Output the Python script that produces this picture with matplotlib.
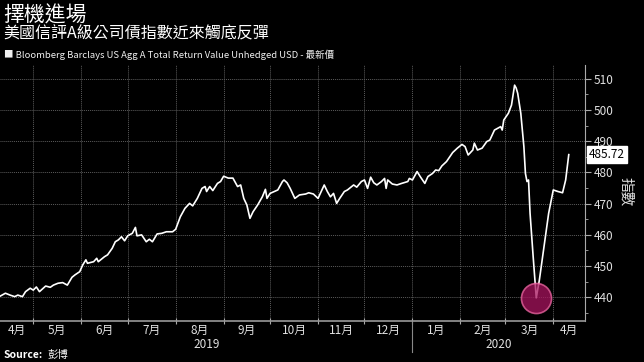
import pandas as pd
import matplotlib
matplotlib.use("Agg")
import matplotlib.pyplot as plt
import matplotlib.dates as mdates
import matplotlib.transforms as mtransforms

plt.rcParams['font.family'] = ['Noto Sans CJK TC', 'DejaVu Sans']

title = "擇機進場"
subtitle = "美國信評A級公司債指數近來觸底反彈"
series_name = "Bloomberg Barclays US Agg A Total Return Value Unhedged USD - 最新價"
source = "彭博"

dates = [
    "2019-04-09", "2019-04-13", "2019-04-16", "2019-04-19", "2019-04-21", "2019-04-24",
    "2019-04-26", "2019-04-29", "2019-05-01", "2019-05-03", "2019-05-05", "2019-05-09",
    "2019-05-12", "2019-05-14", "2019-05-17", "2019-05-20", "2019-05-23", "2019-05-26",
    "2019-05-28", "2019-05-31", "2019-06-02", "2019-06-04", "2019-06-05", "2019-06-09",
    "2019-06-11", "2019-06-12", "2019-06-16", "2019-06-18", "2019-06-21", "2019-06-23",
    "2019-06-25", "2019-06-27", "2019-06-29", "2019-07-01", "2019-07-04", "2019-07-06",
    "2019-07-07", "2019-07-10", "2019-07-13", "2019-07-15", "2019-07-17", "2019-07-20",
    "2019-07-23", "2019-07-26", "2019-07-30", "2019-08-01", "2019-08-04", "2019-08-07",
    "2019-08-10", "2019-08-12", "2019-08-15", "2019-08-18", "2019-08-20", "2019-08-21",
    "2019-08-23", "2019-08-25", "2019-08-28", "2019-08-30", "2019-09-01", "2019-09-04",
    "2019-09-07", "2019-09-10", "2019-09-12", "2019-09-14", "2019-09-16", "2019-09-18",
    "2019-09-20", "2019-09-23", "2019-09-26", "2019-09-28", "2019-09-29", "2019-10-01",
    "2019-10-06", "2019-10-09", "2019-10-10", "2019-10-12", "2019-10-14", "2019-10-17",
    "2019-10-20", "2019-10-24", "2019-10-26", "2019-10-29", "2019-11-01", "2019-11-05",
    "2019-11-07", "2019-11-09", "2019-11-11", "2019-11-13", "2019-11-15", "2019-11-18",
    "2019-11-20", "2019-11-24", "2019-11-26", "2019-11-29", "2019-12-01", "2019-12-03",
    "2019-12-05", "2019-12-07", "2019-12-09", "2019-12-12", "2019-12-14", "2019-12-15",
    "2019-12-16", "2019-12-19", "2019-12-22", "2019-12-25", "2019-12-29", "2019-12-30",
    "2020-01-01", "2020-01-04", "2020-01-06", "2020-01-09", "2020-01-11", "2020-01-14",
    "2020-01-16", "2020-01-18", "2020-01-20", "2020-01-23", "2020-01-27", "2020-01-30",
    "2020-02-02", "2020-02-04", "2020-02-06", "2020-02-09", "2020-02-10", "2020-02-12",
    "2020-02-15", "2020-02-18", "2020-02-20", "2020-02-23", "2020-02-27", "2020-02-28",
    "2020-02-29", "2020-03-03", "2020-03-05", "2020-03-06", "2020-03-07", "2020-03-08",
    "2020-03-09", "2020-03-11", "2020-03-13", "2020-03-14", "2020-03-15", "2020-03-16",
    "2020-03-17", "2020-03-19", "2020-03-21", "2020-03-23", "2020-03-26", "2020-03-29",
    "2020-04-01", "2020-04-04", "2020-04-07", "2020-04-09", "2020-04-11",
]
values = [
    440.2, 441.3, 440.7, 440.2, 440.7, 440.2,
    441.8, 442.9, 442.3, 443.3, 441.8, 443.6,
    443.2, 443.9, 444.5, 444.7, 443.9, 446.4,
    447.2, 448.2, 450.4, 452.0, 450.9, 451.4,
    452.5, 451.4, 453.0, 453.6, 455.7, 457.8,
    458.4, 459.4, 458.1, 459.7, 460.5, 462.4,
    459.7, 460.0, 457.8, 458.6, 457.8, 460.3,
    460.5, 461.0, 461.0, 461.8, 465.8, 468.5,
    470.1, 469.3, 471.7, 474.9, 475.5, 473.9,
    475.5, 474.2, 476.5, 477.1, 478.8, 478.2,
    478.2, 475.5, 476.0, 471.7, 469.6, 465.3,
    467.4, 469.6, 472.2, 474.6, 471.7, 473.3,
    474.4, 477.1, 477.6, 476.7, 474.9, 471.7,
    472.8, 473.1, 473.5, 473.1, 471.7, 476.0,
    473.9, 472.2, 473.3, 470.1, 471.7, 473.9,
    474.4, 476.0, 475.3, 477.1, 477.6, 474.9,
    478.5, 476.7, 476.0, 477.1, 478.1, 474.9,
    477.6, 476.3, 476.0, 476.5, 477.1, 478.1,
    477.6, 480.3, 478.7, 476.5, 478.7, 479.7,
    480.8, 480.6, 482.1, 483.5, 486.4, 487.8,
    489.0, 488.3, 485.6, 487.2, 489.4, 487.2,
    487.8, 489.9, 490.4, 493.6, 494.7, 493.6,
    496.8, 499.0, 501.6, 504.8, 508.0, 507.1,
    505.4, 499.0, 488.3, 479.7, 477.1, 477.6,
    466.9, 453.0, 439.8, 445.5, 456.2, 466.9,
    474.4, 473.9, 473.5, 477.6, 485.72,
]
y_ticks = [440, 450, 460, 470, 480, 490, 500, 510]

x = pd.to_datetime(dates)
bg = "black"

fig = plt.figure(figsize=(6.44, 3.62), dpi=100, facecolor=bg)
ax = fig.add_axes([0.0, 0.1133, 0.9084, 0.7071], facecolor=bg)

ax.plot(x, values, color="white", lw=1.2, zorder=3)

# highlight the low point
i_low = min(range(len(values)), key=lambda i: values[i])
ax.scatter([x[i_low]], [values[i_low]], s=470, facecolor="#a8145e", alpha=0.75,
           edgecolor="#f06aa5", linewidth=1.2, zorder=4)

x0 = pd.Timestamp("2019-04-09 12:00")
x1 = pd.Timestamp("2020-04-21 12:00")
ax.set_xlim(x0, x1)
ax.set_ylim(432.4, 514.45)

ax.xaxis.set_major_locator(mdates.MonthLocator())
ax.xaxis.set_major_formatter(plt.NullFormatter())
ax.yaxis.tick_right()
ax.set_yticks(y_ticks)
ax.set_yticks(range(435, 515, 5), minor=True)
ax.tick_params(axis="y", which="major", colors="#aaaaaa", labelcolor="#e0e0e0",
               labelsize=8.5, length=4, width=0.8, pad=2)
ax.tick_params(axis="y", which="minor", colors="#aaaaaa", length=2, width=0.6)
ax.tick_params(axis="x", which="major", colors="#aaaaaa", direction="inout",
               length=5, width=0.8)
ax.grid(True, which="major", color="#5c5c5c", linestyle=(0, (1, 1)), linewidth=0.7)

for side in ["top", "left"]:
    ax.spines[side].set_visible(False)
ax.spines["right"].set_color("#aaaaaa")
ax.spines["bottom"].set_color("#999999")
ax.spines["bottom"].set_linewidth(1.2)

# month labels centred on the visible part of each month
trans = mtransforms.blended_transform_factory(ax.transData, ax.transAxes)
months = pd.date_range("2019-04-01", "2020-04-01", freq="MS")
for m in months:
    start = max(m, x0)
    end = min(m + pd.offsets.MonthBegin(1), x1)
    mid = start + (end - start) / 2
    ax.text(mid, -0.035, f"{m.month}月", transform=trans, ha="center", va="center",
            color="#e0e0e0", fontsize=8.5)

for yr, a, b in [("2019", x0, pd.Timestamp("2020-01-01")),
                 ("2020", pd.Timestamp("2020-01-01"), x1)]:
    ax.text(a + (b - a) / 2, -0.09, yr, transform=trans, ha="center", va="center",
            color="#e0e0e0", fontsize=8.5)
ax.plot([pd.Timestamp("2020-01-01")] * 2, [0, -0.12], transform=trans,
        color="#888888", lw=0.8, clip_on=False)

# last value tag
ax.annotate(f"{values[-1]:.2f}", xy=(1, values[-1]), xycoords=("axes fraction", "data"),
            xytext=(3, 0), textcoords="offset points", ha="left", va="center",
            fontsize=8.5, color="black",
            bbox=dict(boxstyle="square,pad=0.15", fc="white", ec="white"))

fig.text(0.972, 0.47, "指數", rotation=270, ha="center", va="center",
         color="#e0e0e0", fontsize=10.5)

fig.text(0.005, 1 - 16 / 362, title, color="white", fontsize=15, va="center")
fig.text(0.005, 1 - 34 / 362, subtitle, color="white", fontsize=11.5, va="center")
fig.text(0.006, 1 - 55 / 362, "■ " + series_name, color="#f0f0f0", fontsize=6.8,
         va="center")
fig.text(0.005, 1 - 355 / 362, "Source:", color="white", fontsize=7.5,
         fontweight="bold", va="center")
fig.text(0.073, 1 - 355 / 362, source, color="white", fontsize=7.5, va="center")

fig.savefig("out.png", dpi=100, facecolor=bg)
